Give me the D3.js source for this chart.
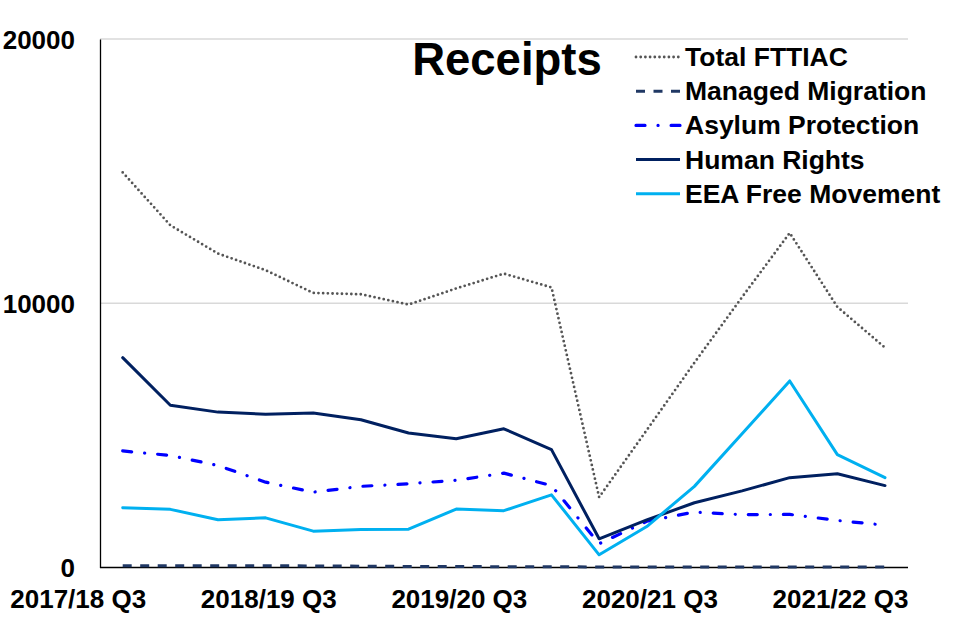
<!DOCTYPE html>
<html>
<head>
<meta charset="utf-8">
<script src="https://cdn.jsdelivr.net/npm/d3@7"></script>
<style>
  body { margin: 0; background: #fff; }
  text { font-family: "Liberation Sans", Arial, sans-serif; font-weight: bold; fill: #000; }
</style>
</head>
<body>
<div id="chart"></div>
<script>
var quarters = ["2017/18 Q3", "2017/18 Q4", "2018/19 Q1", "2018/19 Q2", "2018/19 Q3", "2018/19 Q4",
  "2019/20 Q1", "2019/20 Q2", "2019/20 Q3", "2019/20 Q4", "2020/21 Q1", "2020/21 Q2", "2020/21 Q3",
  "2020/21 Q4", "2021/22 Q1", "2021/22 Q2", "2021/22 Q3"]
var tickLabels = ["2017/18 Q3", "2018/19 Q3", "2019/20 Q3", "2020/21 Q3", "2021/22 Q3"]
var yTicks = [0, 10000, 20000]

var totalFTTIAC = [14950, 12950, 11880, 11250, 10390, 10340, 9950, 10560, 11120, 10600, 2660, 5200, 7750, 10230, 12660, 9860, 8320]
var managedMigration = [70, 70, 70, 70, 60, 50, 40, 40, 30, 30, 20, 20, 20, 20, 20, 20, 20]
var asylumProtection = [4410, 4240, 3860, 3230, 2850, 3070, 3170, 3300, 3570, 3100, 900, 1750, 2100, 2000, 2010, 1780, 1600]
var humanRights = [7940, 6140, 5880, 5800, 5850, 5590, 5090, 4870, 5250, 4460, 1085, 1800, 2450, 2900, 3400, 3550, 3100]
var eeaFreeMovement = [2260, 2200, 1805, 1880, 1375, 1440, 1450, 2210, 2150, 2750, 480, 1550, 3070, 5060, 7060, 4270, 3400]

var series = [
  {name: "Total FTTIAC", values: totalFTTIAC, color: "#555555", width: 2.8, dash: "0,4.7", cap: "round"},
  {name: "Managed Migration", values: managedMigration, color: "#203864", width: 3, dash: "9,8.5", cap: "butt"},
  {name: "Asylum Protection", values: asylumProtection, color: "#0000ff", width: 3.2, dash: "9,13,0.1,13", cap: "round"},
  {name: "Human Rights", values: humanRights, color: "#002060", width: 3, dash: null, cap: "round"},
  {name: "EEA Free Movement", values: eeaFreeMovement, color: "#00b0f0", width: 3, dash: null, cap: "round"}
]

var width = 960, height = 640
var svg = d3.select("#chart").append("svg")
  .attr("width", width)
  .attr("height", height)

var plotLeft = 100, plotRight = 908

var x = d3.scalePoint()
  .domain(quarters)
  .range([122.7, 885])

var y = d3.scaleLinear()
  .domain([0, 20000])
  .range([567.5, 39])

// gridlines
svg.append("g").selectAll("line")
  .data(yTicks.filter(t => t > 0))
  .enter().append("line")
    .attr("x1", plotLeft).attr("x2", plotRight)
    .attr("y1", d => y(d)).attr("y2", d => y(d))
    .attr("stroke", "#d9d9d9").attr("stroke-width", 1.3)

// y axis
var yAxis = svg.append("g")
  .attr("transform", "translate(" + plotLeft + ",0)")
  .call(d3.axisLeft(y).tickValues(yTicks).tickSize(0).tickPadding(25).tickFormat(d3.format("d")))
yAxis.select(".domain").attr("stroke", "#000").attr("stroke-width", 1.3)
yAxis.selectAll("text").style("font-size", "26px").attr("dy", "0.36em")

// x axis
var xAxis = svg.append("g")
  .attr("transform", "translate(0," + y(0) + ")")
  .call(d3.axisBottom(x).tickValues(tickLabels).tickSize(0).tickPadding(22))
xAxis.select(".domain").attr("d", "M" + plotLeft + ",0H" + plotRight).attr("stroke", "#000").attr("stroke-width", 1.3)
xAxis.selectAll("text").style("font-size", "26px").attr("dx", -45)

// lines
var line = d3.line()
  .x((d, i) => x(quarters[i]))
  .y(d => y(d))

svg.append("g").selectAll("path")
  .data(series)
  .enter().append("path")
    .attr("d", d => line(d.values))
    .attr("fill", "none")
    .attr("stroke", d => d.color)
    .attr("stroke-width", d => d.width)
    .attr("stroke-dasharray", d => d.dash)
    .attr("stroke-linecap", d => d.cap)
    .attr("stroke-linejoin", "round")

// title
svg.append("text")
  .attr("x", 507).attr("y", 75)
  .attr("text-anchor", "middle")
  .style("font-size", "45.5px")
  .text("Receipts")

// legend
var legend = svg.append("g").selectAll("g")
  .data(series)
  .enter().append("g")
    .attr("transform", (d, i) => "translate(636," + (66 + i * 34.2) + ")")

legend.append("line")
  .attr("x1", 0).attr("x2", 44)
  .attr("y1", -9).attr("y2", -9)
  .attr("stroke", d => d.color)
  .attr("stroke-width", d => d.width)
  .attr("stroke-dasharray", d => d.dash)
  .attr("stroke-linecap", d => d.cap === "round" && d.dash ? "round" : "butt")

legend.append("text")
  .attr("x", 49)
  .style("font-size", "26.5px")
  .text(d => d.name)
</script>
</body>
</html>
